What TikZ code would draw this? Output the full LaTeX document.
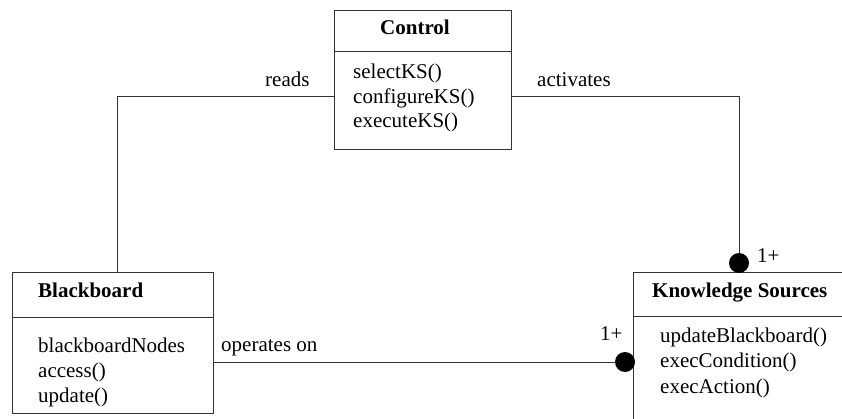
\documentclass[tikz,border=0pt]{standalone}
\usepackage{fontspec}
\setmainfont{Liberation Serif}
\begin{document}
\begin{tikzpicture}[x=1pt,y=-1pt,
  line/.style={draw=black!80, line width=1pt},
  box/.style={line, rectangle, anchor=north west, inner sep=0pt},
  txt/.style={anchor=base west, inner sep=0pt, font=\fontsize{21}{25}\selectfont},
  ttl/.style={txt, font=\fontsize{21}{25}\selectfont\bfseries},
  dot/.style={circle, fill=black, inner sep=0pt, minimum size=20pt}]
\clip (0,0) rectangle (842,419);
\fill[white] (0,0) rectangle (842,419);
% boxes
\node[box, minimum width=177pt, minimum height=139pt] (ctrl) at (334,10) {};
\node[box, minimum width=201pt, minimum height=141pt] (bb) at (12,272) {};
\node[box, minimum width=230pt, minimum height=170pt] (ks) at (633,272) {};
% dividers
\draw[line] (ctrl.west |- 0,52) -- (ctrl.east |- 0,52);
\draw[line] (bb.west |- 0,317) -- (bb.east |- 0,317);
\draw[line] (ks.west |- 0,316) -- (ks.east |- 0,316);
% titles
\node[ttl, anchor=base] (ctrlT) at (415,35) {Control};
\node[ttl] (bbT) at (38,298) {Blackboard};
\node[ttl] (ksT) at (652,298) {Knowledge Sources};
% members
\node[txt] (c1) at (353,79) {selectKS()};
\node[txt] (c2) at (353,103.5) {configureKS()};
\node[txt] (c3) at (353,128) {executeKS()};
\node[txt] (b1) at (38,352) {blackboardNodes};
\node[txt] (b2) at (38,377) {access()};
\node[txt] (b3) at (38,402) {update()};
\node[txt] (k1) at (660,342) {updateBlackboard()};
\node[txt] (k2) at (660,367.5) {execCondition()};
\node[txt] (k3) at (660,393) {execAction()};
% connectors
\coordinate (r1) at (117,97);
\coordinate (a1) at (739,97);
\coordinate (o1) at (0,362);
\draw[line] (bb.north -| r1) |- (ctrl.west |- r1);
\draw[line] (ctrl.east |- a1) -| (ks.north -| a1);
\draw[line] (bb.east |- o1) -- (ks.west |- o1);
\node[dot] (d1) at (739,263) {};
\node[dot] (d2) at (625,362) {};
% labels
\node[txt] (lr) at (265,87) {reads};
\node[txt] (la) at (537,87) {activates};
\node[txt] (lo) at (221,351) {operates on};
\node[txt] (m1) at (757,263) {1+};
\node[txt] (m2) at (600,340) {1+};
\end{tikzpicture}
\end{document}
